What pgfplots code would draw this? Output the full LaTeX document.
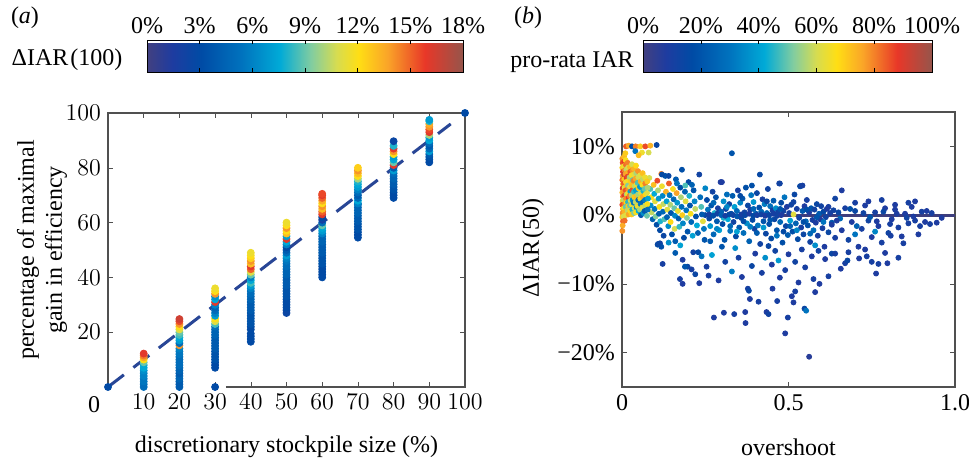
\documentclass[border=0pt]{standalone}
\usepackage{fontspec}
\setmainfont{Liberation Serif}
\usepackage{pgfplots}
\pgfplotsset{compat=1.18}
\usetikzlibrary{calc}
\newcommand{\fs}{\fontsize{12}{14}\selectfont}
\pgfplotsset{
  colormap={ref}{rgb255(0pt)=(66,64,128); rgb255(8pt)=(30,60,160); rgb255(17pt)=(0,75,165); rgb255(30pt)=(0,115,190); rgb255(42pt)=(0,170,215); rgb255(52pt)=(130,205,160); rgb255(60pt)=(215,220,80); rgb255(67pt)=(255,222,20); rgb255(76pt)=(250,165,40); rgb255(88pt)=(232,55,40); rgb255(100pt)=(150,85,75)},
  every axis/.append style={font=\fs, tick label style={font=\fs}, label style={font=\fs}},
}
\definecolor{dashblue}{RGB}{40,70,150}
\definecolor{navy}{RGB}{62,62,125}
\definecolor{spine}{RGB}{80,80,80}
\begin{document}
\begin{tikzpicture}
\useasboundingbox (0,0) rectangle (484.5pt,229.5pt);
% ---------------- panel (a)
\begin{axis}[
  at={(54pt,36pt)}, anchor=south west, scale only axis,
  width=178.5pt, height=137pt,
  xmin=0, xmax=100, ymin=0, ymax=100,
  xtick={10,20,...,100}, ytick={20,40,...,100},
  tick align=inside, major tick length=2.5pt, tick style={spine},
  axis line style={draw=none},
  colormap name=ref, point meta min=0, point meta max=18,
  colorbar horizontal,
  colorbar style={
    at={($(parent axis.north west)+(19.5pt,29pt)$)}, anchor=south west,
    scale only axis, width=158pt, height=16pt,
    xtick={0,3,...,18}, xticklabels={0\%,3\%,6\%,9\%,12\%,15\%,18\%},
    xticklabel pos=upper, major tick length=2pt, tick style={black},
    tick label style={font=\fs}, xticklabel style={yshift=-0.5pt}, axis line style={black},
  },
  xlabel={discretionary stockpile size (\%)},
  xlabel style={at={(rel axis cs:0.5,0)}, anchor=center, yshift=-30pt},
  clip=false,
]
\draw[spine, line width=0.6pt] (axis cs:33,0) -- (axis cs:100,0) -- (axis cs:100,100) -- (axis cs:0,100) -- (axis cs:0,0);
\addplot[dashblue, line width=1.5pt, dash pattern=on 10pt off 6pt] coordinates {(0,0) (96,96)};
\addplot[scatter, only marks, mark=*, mark size=1.75pt, scatter src=explicit,
  scatter/use mapped color={draw=mapped color, fill=mapped color}]
  table[meta=c] {
x y c
0 0 3
100 100 3
10 0 5
10 1 5
10 2 5.5
10 3 5.5
10 4 6
10 5 6
10 6 6.5
10 7 7.5
10 8 7.5
10 9 9
10 10 12
10 10.8 13.5
10 11.5 14.5
10 12.2 16
20 0 4
20 1 4
20 2 4
20 3 4.5
20 4 4.5
20 5 4
20 6 4.5
20 7 4.5
20 8 5
20 9 5
20 10 5
20 11 5
20 12 5.5
20 13 5.5
20 14 6
20 15.2 14
20 16 5
20 17 7
20 18 7.5
20 19 8.5
20 20 9
20 21 11
20 22 12
20 23 14
20 24 15.5
20 24.8 16.5
30 0 3
30 7 3
30 8 3
30 9 3
30 10 3.5
30 11 3.5
30 12 3.5
30 13 3.5
30 14 4
30 15 4
30 16 4
30 17 4
30 18 4
30 19 4.5
30 20 4.5
30 21 4.5
30 22 5
30 23 8.5
30 24 11
30 25 12
30 26 7
30 27 6
30 28 5
30 29 4.5
30 30 6
30 31 16
30 32 7.5
30 33 6.5
30 34 14
30 35 12
30 36 11.5
40 16.5 3
40 17.5 3
40 18.5 3
40 19.5 3
40 21 3
40 22 3
40 23 3.5
40 24 3.5
40 25 3.5
40 26 3.5
40 27 3.5
40 28 4
40 29 4
40 30 4
40 31 4
40 32 4.5
40 33 4.5
40 34 5
40 35 5
40 36 6
40 37 7
40 38 8.5
40 39 7.5
40 40 6
40 41 9
40 42 11
40 43 15
40 44 16
40 45 13
40 46 14
40 47 12.5
40 48 12
40 49 11.5
50 27 2.5
50 28 2.5
50 29 3
50 30 3
50 31 3
50 32 3
50 33 3.5
50 34 3.5
50 35 3.5
50 36 3.5
50 37 4
50 38 4
50 39 4
50 40 4
50 41 4.5
50 42 4.5
50 43 4.5
50 44 5
50 45 5
50 46 5.5
50 47 6
50 48 7
50 49 5
50 50 4
50 51 3
50 52 6
50 53 7.5
50 54 16
50 55 7
50 56 13
50 57 12
50 58 14
50 59 12
50 60 11.5
60 40 3
60 41 3
60 42 3
60 43 3
60 44 3
60 45 3.5
60 46 3.5
60 47 3.5
60 48 3.5
60 49 4
60 50 4
60 51 4
60 52 4
60 53 4.5
60 54 4.5
60 55 4.5
60 56 6
60 57 7
60 58 7.5
60 59 9
60 60 5
60 61 2
60 62 3
60 63 16
60 64 15
60 65 13
60 66 14
60 67 12
60 68 13.5
60 69 15
60 70 16
60 70.5 15.5
70 54.5 3
70 55.5 3
70 56.5 3
70 57.5 3.5
70 58.5 3.5
70 59.5 3.5
70 60.5 4
70 61.5 4
70 62.5 4
70 63.5 4.5
70 64.5 4.5
70 65.5 4.5
70 66.5 4.5
70 67 6
70 68 7.5
70 69 5
70 70 4
70 71 5
70 72 6
70 73 7
70 74 7.5
70 75 8
70 76 10
70 77 12
70 78 13
70 79 14
70 80 12.5
80 69 3
80 70 3
80 71 3
80 72 3.5
80 73 3.5
80 74 4
80 75 4
80 76 4.5
80 77 4.5
80 78 5
80 79 7
80 80 4
80 81 16
80 82 9
80 83 7.5
80 84 7
80 85 12
80 86 14
80 87 16
80 88 8
80 89.7 2.5
90 82 3
90 83 3
90 84 3.5
90 85 4
90 86 7
90 87 5
90 88 4
90 89 5
90 90 7.5
90 91 7
90 92 10
90 93 16
90 94 15.5
90 95 14
90 96 13.5
90 97 8
90 97.5 7
};
\end{axis}
\node[font=\fs] at (47pt,27pt) {0};
\node[font=\fs] at (12.5pt,220.5pt) {(\textit{a})};
\node[font=\fs] at (33.5pt,199.5pt) {ΔIAR\kern1pt(100)};
\node[font=\fs, rotate=90, align=center] at (21pt,104.5pt) {percentage of maximal\\gain in efficiency};
% ---------------- panel (b)
\begin{axis}[
  at={(311pt,36pt)}, anchor=south west, scale only axis,
  width=166.5pt, height=137.5pt,
  xmin=0, xmax=1, ymin=-25, ymax=15,
  xtick={0,0.5,1}, xticklabels={0,0.5,1.0},
  ytick={-20,-10,0,10}, yticklabels={−20\%,−10\%,0\%,10\%},
  tick align=inside, major tick length=2.5pt, tick style={spine},
  axis line style={spine, line width=0.6pt},
  colormap name=ref, point meta min=0, point meta max=100,
  colorbar horizontal,
  colorbar style={
    at={($(parent axis.north west)+(10.5pt,28.5pt)$)}, anchor=south west,
    scale only axis, width=144.5pt, height=16pt,
    xtick={0,20,...,100}, xticklabels={0\%,20\%,40\%,60\%,80\%,100\%},
    xticklabel pos=upper, major tick length=2pt, tick style={black},
    tick label style={font=\fs}, xticklabel style={yshift=-0.5pt}, axis line style={black},
  },
  xlabel={overshoot},
  xlabel style={at={(rel axis cs:0.5,0)}, anchor=center, yshift=-30pt},
]
\addplot[scatter, only marks, mark=*, mark size=1.25pt, scatter src=explicit,
  scatter/use mapped color={draw=mapped color, fill=mapped color}]
  table[meta=c] {
x y c
0.66 -2.2 8
0.67 1.0 10
0.68 -3.6 12
0.69 -1.0 8
0.70 0.6 14
0.71 -4.6 8
0.72 -2.0 10
0.73 1.4 8
0.74 -0.8 12
0.75 -3.2 8
0.76 0.4 10
0.77 -1.6 8
0.78 -4.0 10
0.79 1.0 8
0.80 -2.6 12
0.81 -0.6 8
0.807 -3.0 10
0.82 0.8 8
0.83 -1.8 10
0.84 -3.1 8
0.845 -4.1 10
0.85 0.2 8
0.86 -1.2 10
0.87 1.2 8
0.88 -0.8 10
0.89 -2.8 8
0.90 0.5 10
0.91 -1.0 8
0.925 -1.3 10
0.945 -1.1 8
0.93 0.3 10
0.96 -0.4 8
0.68 -5.4 10
0.73 -5.0 8
0.75 -6.8 10
0.79 -5.5 8
0.83 -6.2 10
0.70 -2.8 30
0.76 -2.4 34
0.62 1.2 10
0.64 2.4 12
0.66 3.6 8
0.70 1.8 10
0.74 2.0 8
0.78 2.2 10
0.82 1.5 8
0.86 1.8 10
0.88 2.0 8
0.63 -1.1 20
0.655 -0.5 26
0.685 0.9 18
0.705 -1.6 24
0.725 0.3 12
0.745 -0.3 20
0.765 -0.9 8
0.785 0.5 14
0.805 -1.3 10
0.825 0.2 8
0.855 -0.4 12
0.875 -0.2 8
0.895 -1.6 10
0.915 0.6 8
0.122 -7.1 10
0.107 -4.3 18
0.114 -4.1 12
0.182 -6.5 8
0.174 -9.3 10
0.182 -10.0 8
0.197 -7.5 14
0.209 -7.9 10
0.214 -5.4 12
0.229 -5.4 16
0.239 -6.0 30
0.232 -9.9 8
0.189 -7.5 20
0.254 -7.5 10
0.276 -14.9 8
0.306 -14.2 8
0.337 -14.4 10
0.370 -14.1 8
0.371 -15.7 8
0.378 -10.7 10
0.381 -11.0 14
0.384 -12.2 8
0.410 -12.6 10
0.434 -14.1 8
0.440 -14.4 12
0.452 -10.7 8
0.466 -12.5 10
0.474 -9.1 8
0.490 -17.2 8
0.498 -14.9 10
0.510 -11.8 8
0.515 -12.7 8
0.520 -11.1 10
0.548 -13.6 14
0.553 -13.9 30
0.562 -20.6 6
0.580 -11.2 8
0.593 -10.0 8
0.575 -9.3 10
0.657 -7.8 8
0.670 -7.0 10
0.677 -6.6 14
0.712 -6.3 8
0.735 -6.0 10
0.763 -8.5 8
0.770 -7.1 10
0.797 -7.0 8
0.26 -8.8 10
0.29 -9.5 8
0.31 -6.8 12
0.33 -8.2 32
0.35 -6.2 10
0.36 -9.0 8
0.39 -7.4 14
0.40 -5.6 8
0.42 -8.4 10
0.43 -6.2 36
0.45 -7.2 8
0.46 -5.2 12
0.47 -6.6 38
0.49 -8.0 10
0.50 -5.7 8
0.52 -6.8 12
0.53 -9.8 8
0.55 -7.6 10
0.57 -6.0 8
0.59 -5.2 12
0.61 -6.4 8
0.62 -8.9 10
0.63 -5.6 14
0.27 -5.8 40
0.30 -4.6 20
0.34 -4.8 36
0.44 -4.5 14
0.54 -5.0 10
0.58 -4.4 36
0.64 -5.6 10
0.22 -8.6 14
0.16 -5.5 22
0.255 2.2 16
0.258 0.8 30
0.262 -0.5 14
0.265 -1.6 38
0.268 1.4 20
0.272 3.4 12
0.275 -2.8 26
0.278 0.3 44
0.282 2.6 18
0.285 -0.9 22
0.288 1.0 10
0.292 -2.2 40
0.296 4.8 8
0.298 0.5 24
0.302 -1.3 16
0.305 2.0 36
0.308 -3.6 20
0.312 0.9 12
0.315 3.0 28
0.318 -0.6 42
0.322 1.6 14
0.325 -2.3 30
0.328 0.2 18
0.332 2.8 22
0.335 -1.0 12
0.338 1.2 40
0.342 -3.1 16
0.345 0.6 26
0.348 3.6 10
0.352 -1.8 22
0.355 1.8 34
0.358 -0.4 14
0.362 2.4 20
0.365 -2.6 28
0.368 0.4 12
0.372 4.0 18
0.375 -1.2 36
0.378 1.4 14
0.382 -3.8 24
0.385 0.8 10
0.388 2.9 30
0.392 -0.7 16
0.395 1.9 38
0.398 -2.0 12
0.402 0.2 22
0.405 3.2 14
0.408 -1.5 30
0.412 1.1 18
0.415 -4.2 12
0.418 0.5 26
0.422 2.3 10
0.425 -0.9 20
0.428 1.6 32
0.432 -2.7 14
0.435 0.3 24
0.438 3.8 12
0.442 -1.3 18
0.445 1.3 28
0.448 -3.4 16
0.452 0.7 10
0.455 2.1 22
0.458 -0.6 14
0.462 1.0 36
0.465 -2.2 20
0.468 0.4 12
0.472 4.6 10
0.475 -1.0 26
0.478 1.8 16
0.482 -4.0 18
0.485 0.6 12
0.488 2.6 30
0.492 -1.6 14
0.495 1.2 8
0.498 -2.9 22
0.502 0.3 10
0.505 -0.8 40
0.508 1.5 12
0.512 -2.4 18
0.515 0.1 62
0.518 3.0 14
0.522 -1.2 24
0.525 0.9 10
0.528 -3.5 16
0.532 -0.4 12
0.535 4.2 20
0.538 -1.8 10
0.542 0.6 22
0.545 -2.8 14
0.548 1.3 8
0.552 -0.9 26
0.555 2.2 10
0.558 -1.5 18
0.562 0.4 8
0.565 -3.9 12
0.568 1.0 20
0.572 -0.7 10
0.575 -2.2 28
0.578 0.8 12
0.582 -1.1 8
0.585 1.6 14
0.588 -3.0 10
0.592 0.2 22
0.595 -0.6 8
0.598 1.3 12
0.602 -1.9 10
0.605 0.5 16
0.608 -4.6 8
0.612 -0.3 12
0.615 0.9 8
0.620 -2.5 14
0.625 0.3 10
0.630 -1.4 8
0.635 0.7 12
0.640 -3.3 10
0.645 -0.8 8
0.650 0.4 14
0.265 -3.8 22
0.285 -2.0 34
0.305 -0.4 44
0.325 -1.6 26
0.345 -2.4 40
0.365 -0.9 18
0.385 -1.7 32
0.405 -2.6 22
0.425 -1.8 38
0.445 -0.7 20
0.465 -3.0 30
0.485 -2.4 16
0.505 -1.6 24
0.525 -2.2 34
0.545 -1.0 18
0.565 -2.7 26
0.585 -0.3 20
0.605 -1.0 30
0.275 1.8 26
0.315 1.2 34
0.355 2.8 16
0.395 0.9 26
0.435 2.0 14
0.475 0.9 20
0.515 1.9 12
0.555 0.8 18
0.330 9.0 20
0.414 5.9 15
0.474 4.6 12
0.535 4.2 14
0.542 4.3 10
0.390 4.3 18
0.300 4.8 8
0.250 0.0 14
0.262 0.1 10
0.274 -0.1 18
0.286 0.2 12
0.298 0.0 24
0.310 -0.1 10
0.322 0.1 16
0.334 0.0 12
0.346 -0.2 20
0.358 0.1 10
0.370 0.0 14
0.382 0.2 8
0.394 -0.1 16
0.406 0.0 10
0.418 0.1 12
0.430 -0.1 8
0.442 0.0 14
0.454 0.2 10
0.466 -0.1 12
0.478 0.0 8
};
\addplot[navy, line width=1.6pt] coordinates {(0.48,0) (1.0,0)};
\addplot[scatter, only marks, mark=*, mark size=1.25pt, scatter src=explicit,
  scatter/use mapped color={draw=mapped color, fill=mapped color}]
  table[meta=c] {
x y c
0.082 5.4 60
0.085 3.8 48
0.088 2.6 66
0.086 1.4 36
0.089 0.4 58
0.092 -0.6 24
0.095 4.4 72
0.097 3.1 42
0.099 2.0 62
0.098 0.9 30
0.101 -0.2 52
0.104 -1.4 18
0.106 5.0 86
0.108 3.6 56
0.110 2.4 38
0.112 1.2 66
0.111 0.2 22
0.115 -0.9 44
0.114 -2.2 16
0.118 6.0 80
0.120 4.2 64
0.122 2.8 34
0.124 1.6 58
0.123 0.5 26
0.127 -0.6 48
0.125 -3.0 14
0.130 5.7 20
0.132 3.4 74
0.134 2.0 40
0.136 0.8 62
0.135 -0.3 24
0.139 -1.6 36
0.141 4.6 84
0.143 2.9 30
0.145 1.5 56
0.147 0.3 20
0.146 -1.0 68
0.150 -2.8 18
0.153 3.8 66
0.155 2.3 26
0.157 1.0 50
0.159 -0.1 34
0.158 -2.0 60
0.162 5.2 22
0.164 3.2 76
0.166 1.8 38
0.168 0.6 64
0.170 -0.5 22
0.172 -1.7 46
0.175 4.0 18
0.177 2.6 56
0.179 1.2 28
0.181 0.0 70
0.183 -1.2 34
0.186 -3.3 16
0.189 3.4 24
0.191 2.0 62
0.193 0.7 30
0.195 -0.4 52
0.197 -2.4 20
0.200 4.8 16
0.202 2.8 44
0.204 1.4 20
0.206 0.2 66
0.208 -1.0 26
0.212 -3.0 40
0.215 3.6 20
0.218 2.0 34
0.220 0.9 58
0.222 -0.2 18
0.225 -1.5 42
0.228 -2.6 24
0.232 5.9 12
0.235 2.6 28
0.238 1.2 48
0.240 0.1 22
0.243 -0.9 62
0.246 -2.0 30
0.248 -3.6 20
0.118 -4.6 18
0.108 -4.2 14
0.140 -4.0 36
0.160 -3.8 22
0.175 -4.4 40
0.180 6.6 18
0.120 5.9 16
0.140 5.7 14
0.165 4.6 30
0.190 4.3 48
0.210 4.4 24
0.250 3.9 34
0.001 8.2 78
0.002 7.6 85
0.001 6.9 70
0.003 6.3 88
0.002 5.7 76
0.001 5.1 82
0.003 4.5 68
0.002 3.9 90
0.001 3.3 74
0.003 2.7 80
0.002 2.1 65
0.001 1.5 86
0.003 0.9 72
0.002 0.3 79
0.001 -0.3 70
0.003 -0.9 83
0.002 -1.5 75
0.001 -2.3 78
0.006 8.5 72
0.007 7.8 88
0.005 7.1 64
0.008 6.5 80
0.006 5.9 92
0.007 5.2 70
0.005 4.6 84
0.008 4.0 62
0.006 3.4 77
0.007 2.8 89
0.005 2.2 58
0.008 1.6 81
0.006 1.0 66
0.007 0.4 74
0.005 -0.2 60
0.008 -0.8 82
0.011 8.0 66
0.012 7.3 82
0.013 6.6 58
0.011 6.0 76
0.014 5.4 90
0.012 4.8 64
0.013 4.2 71
0.011 3.6 85
0.014 3.0 55
0.012 2.4 79
0.013 1.8 68
0.011 1.2 50
0.014 0.6 74
0.012 0.0 62
0.017 7.6 80
0.018 6.9 60
0.019 6.2 74
0.017 5.6 86
0.020 5.0 66
0.018 4.3 52
0.019 3.7 78
0.017 3.1 64
0.020 2.5 88
0.018 1.9 45
0.019 1.3 70
0.017 0.7 58
0.020 0.1 76
0.024 7.0 72
0.025 6.3 84
0.023 5.5 56
0.026 4.9 70
0.024 4.1 62
0.025 3.4 40
0.023 2.8 80
0.026 2.1 60
0.024 1.4 50
0.025 0.6 68
0.030 7.4 60
0.031 6.5 78
0.029 5.8 66
0.032 5.1 50
0.030 4.3 72
0.031 3.6 86
0.029 2.9 56
0.032 2.2 36
0.030 1.5 64
0.031 0.8 44
0.029 0.1 70
0.036 6.7 74
0.037 5.9 62
0.035 5.0 80
0.038 4.2 58
0.036 3.4 46
0.037 2.6 70
0.035 1.8 30
0.038 1.0 60
0.036 0.3 52
0.042 7.2 68
0.043 6.1 56
0.041 5.3 76
0.044 4.4 64
0.042 3.6 40
0.043 2.7 72
0.041 1.9 58
0.044 1.1 34
0.042 0.4 66
0.048 6.4 78
0.049 5.5 60
0.047 4.7 48
0.050 3.9 70
0.048 3.0 56
0.049 2.2 26
0.047 1.3 64
0.050 0.6 42
0.055 5.8 62
0.056 4.9 74
0.054 4.1 38
0.057 3.2 60
0.055 2.4 68
0.056 1.6 30
0.054 0.8 56
0.057 0.0 20
0.062 6.1 72
0.063 5.2 58
0.061 4.4 66
0.064 3.5 44
0.062 2.7 74
0.063 1.9 24
0.061 1.1 62
0.064 0.3 36
0.069 5.5 64
0.070 4.6 80
0.068 3.8 50
0.071 3.0 68
0.069 2.2 32
0.070 1.4 58
0.068 0.6 22
0.076 4.9 70
0.077 4.0 56
0.075 3.2 62
0.078 2.4 40
0.076 1.6 66
0.077 0.8 28
0.075 -0.1 50
0.012 10.0 84
0.020 10.1 75
0.030 10.0 18
0.041 10.0 80
0.055 10.0 70
0.070 10.0 86
0.085 10.1 74
0.104 10.2 14
0.040 9.3 30
0.060 9.1 64
0.080 9.1 60
0.050 8.7 72
0.010 9.0 70
};
\end{axis}
\node[font=\fs] at (264pt,220.5pt) {(\textit{b})};
\node[font=\fs] at (286pt,198.5pt) {pro-rata IAR};
\node[font=\fs, rotate=90] at (266.5pt,105.5pt) {ΔIAR\kern1pt(50)};
\end{tikzpicture}
\end{document}
